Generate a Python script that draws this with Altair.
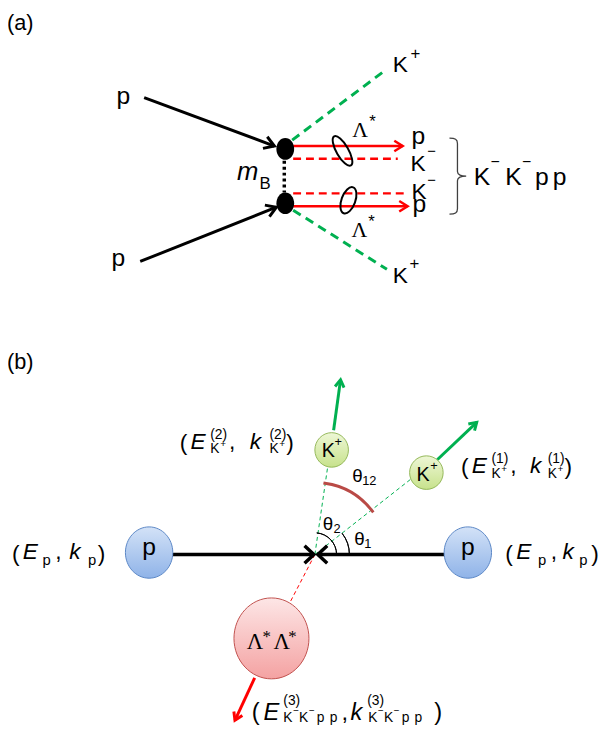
import numpy as np
import pandas as pd
import altair as alt

# ---------------- data (reference pixel coordinates) ----------------
X_DOMAIN = [8, 611]
Y_DOMAIN = [8, 733]

# (a) incoming proton arrows
PA_X0 = [146, 142]; PA_Y0 = [94, 260]; PA_X1 = [278, 280]; PA_Y1 = [143, 205]
# (b) beam arrows
PB_X0 = [175, 450]; PB_Y0 = [557, 557]; PB_X1 = [318, 322]; PB_Y1 = [557, 557]
# (a) meson exchange (dotted)
MB_X0 = [288]; MB_Y0 = [158]; MB_X1 = [288]; MB_Y1 = [190]
# (a) K+ dashed lines
KA_X0 = [296, 297]; KA_Y0 = [137, 208]; KA_X1 = [392, 392]; KA_Y1 = [65, 268]
# (a) red proton arrows
RA_X0 = [297, 297]; RA_Y0 = [143, 204]; RA_X1 = [408, 413]; RA_Y1 = [143, 204]
# (a) red K- dashed lines
RD_X0 = [297, 297]; RD_Y0 = [156, 191]; RD_X1 = [403, 410]; RD_Y1 = [156, 191]
# (b) K+ momentum arrows
GB_X0 = [338, 443]; GB_Y0 = [431, 461]; GB_X1 = [345, 483]; GB_Y1 = [380, 423]
# (b) thin dashed directions
GT_X0 = [319, 319]; GT_Y0 = [557, 557]; GT_X1 = [332, 417]; GT_Y1 = [468, 480]
RT_X0 = [319]; RT_Y0 = [557]; RT_X1 = [293]; RT_Y1 = [607]
# (b) Λ*Λ* momentum arrow
RB_X0 = [258]; RB_Y0 = [682]; RB_X1 = [238]; RB_Y1 = [725]

# ellipses: centre, semi-axes
DOT_X = [289, 289]; DOT_Y = [146, 201]; DOT_RX = [9, 9]; DOT_RY = [11, 11]
PC_X = [151, 474]; PC_Y = [555, 555]; PC_RX = [24, 24]; PC_RY = [26, 26]
KC_X = [336, 432]; KC_Y = [451, 474]; KC_RX = [17, 17]; KC_RY = [17.5, 17]
LC_X = [275]; LC_Y = [642]; LC_RX = [38]; LC_RY = [41]
# Λ* loops (tilted ellipses)
LP_X = [347, 353]; LP_Y = [148, 198]; LP_A = [17, 14]; LP_B = [6, 7]; LP_TILT = [330, 20]
# brace
BR_X = [463.5]; BR_Y = [173.5]; BR_H = [77]

# angle arcs about the collision point (degrees above +x axis)
ARC_CX = [319, 319]; ARC_CY = [557, 557]; ARC_R = [35, 22]; ARC_A0 = [0, 0]; ARC_A1 = [38, 85]
TH12_CX = [319]; TH12_CY = [557]; TH12_R = [73]; TH12_A0 = [37]; TH12_A1 = [82]

# texts: upright sans
SANS_T = ["(a)", "p", "p", "K", "+", "K", "+", "p", "K", "\u2212", "K", "\u2212", "p",
          "K", "\u2212", "K", "\u2212", "p", "p", "B", "*", "*",
          "(b)", "p", "p", "K", "+", "K", "+",
          "\u03b8", "2", "\u03b8", "1", "\u03b8", "12",
          "(", "p", ",", "p", ")",
          "(", "p", ",", "p", ")",
          "(", "(2)", "K", "+", ",", "(2)", "K", "+", ")",
          "(", "(1)", "K", "+", ",", "(1)", "K", "+", ")",
          "(", "(3)", "K", "\u2212", "K", "\u2212", "p", "p", ",",
          "(3)", "K", "\u2212", "K", "\u2212", "p", "p", ")"]
SANS_X = [7, 118, 113, 398, 416, 398, 415, 417, 416, 433, 417, 433, 418,
          480, 497, 512, 529, 542, 560, 263, 374, 373,
          7, 144, 467, 326, 339, 422, 436,
          327, 338, 359, 369, 357, 367,
          12, 43, 56, 89, 99,
          512, 545, 558, 587, 599,
          182, 213, 213, 223, 232, 273, 273, 283, 290,
          467, 498, 498, 508, 517, 555, 555, 565, 572,
          255, 287, 287, 297, 303, 313, 321, 334, 346,
          372, 373, 383, 389, 399, 407, 420, 440]
SANS_Y = [25, 100, 265, 68, 55, 282, 268, 141, 168, 153, 197, 182, 210,
          182, 164, 182, 164, 182, 182, 187, 124, 225,
          369, 557, 557, 458, 447, 482, 471,
          532, 535, 547, 550, 483, 487,
          564, 568, 562, 568, 564,
          564, 568, 562, 568, 564,
          451, 440, 454, 448, 450, 440, 454, 448, 451,
          475, 464, 479, 473, 474, 464, 479, 473, 475,
          725, 710, 727, 719, 727, 719, 727, 727, 725,
          710, 727, 719, 727, 719, 727, 727, 725]
SANS_S = [22, 25, 25, 23, 17, 23, 17, 25, 23, 15, 23, 15, 25,
          25, 16, 25, 16, 25, 25, 17, 17, 17,
          22, 25, 25, 20, 13, 20, 13,
          19, 13, 19, 13, 19, 13,
          23, 15, 23, 15, 23,
          23, 15, 23, 15, 23,
          23, 14, 14, 10, 23, 14, 14, 10, 23,
          23, 14, 14, 10, 23, 14, 14, 10, 23,
          24, 14, 14, 10, 14, 10, 14, 14, 24,
          14, 14, 10, 14, 10, 14, 14, 24]
# italic sans
ITAL_T = ["m", "E", "k", "E", "k", "E", "k", "E", "k", "E", "k"]
ITAL_X = [240, 23, 70, 523, 570, 193, 253, 478, 537, 267, 355]
ITAL_Y = [177, 562, 562, 562, 562, 450, 450, 474, 474, 725, 725]
ITAL_S = [26, 23, 23, 23, 23, 23, 23, 23, 23, 24, 24]
# serif
SERIF_T = ["\u039b", "\u039b", "\u039b", "*", "\u039b", "*"]
SERIF_X = [357, 356, 250, 266, 277, 292]
SERIF_Y = [134, 235, 653, 646, 653, 646]
SERIF_S = [22, 22, 23, 17, 23, 17]

# ---------------- helpers ----------------
xs = alt.Scale(domain=X_DOMAIN, nice=False, zero=False)
ys = alt.Scale(domain=Y_DOMAIN, nice=False, zero=False, reverse=True)
XE = alt.X("x:Q", scale=xs, axis=None)
YE = alt.Y("y:Q", scale=ys, axis=None)

CHEV_NARROW = "M -0.53 0.85 L 0 0 L 0.53 0.85"
CHEV_WIDE = "M -0.7 0.75 L 0 0 L 0.7 0.75"


def rules(x0, y0, x1, y1, **mk):
    df = pd.DataFrame(dict(x=x0, y=y0, x2=x1, y2=y1))
    return alt.Chart(df).mark_rule(**mk).encode(x=XE, y=YE, x2="x2:Q", y2="y2:Q")


def heads(x0, y0, x1, y1, **mk):
    x0, y0, x1, y1 = (np.asarray(v, float) for v in (x0, y0, x1, y1))
    ang = np.degrees(np.arctan2(x1 - x0, -(y1 - y0))) % 360
    df = pd.DataFrame(dict(x=x1, y=y1, a=ang))
    return alt.Chart(df).mark_point(filled=False, opacity=1, **mk).encode(
        x=XE, y=YE, angle=alt.Angle("a:Q", scale=None))


def ellipse_path(ratio):
    a, k = ratio, 0.5523
    return (f"M {a:.4f} 0 C {a:.4f} {k:.4f} {k*a:.4f} 1 0 1 "
            f"C {-k*a:.4f} 1 {-a:.4f} {k:.4f} {-a:.4f} 0 "
            f"C {-a:.4f} {-k:.4f} {-k*a:.4f} -1 0 -1 "
            f"C {k*a:.4f} -1 {a:.4f} {-k:.4f} {a:.4f} 0 Z")


def ellipses(cx, cy, rx, ry, tilt=None, **mk):
    df = pd.DataFrame(dict(x=cx, y=cy,
                           shp=[ellipse_path(a / b) for a, b in zip(rx, ry)],
                           s=[(2 * b) ** 2 for b in ry],
                           a=tilt if tilt is not None else [0] * len(cx)))
    return alt.Chart(df).mark_point(opacity=1, **mk).encode(
        x=XE, y=YE, shape=alt.Shape("shp:N", scale=None),
        size=alt.Size("s:Q", scale=None), angle=alt.Angle("a:Q", scale=None))


def arcs(cx, cy, r, a0, a1, **mk):
    df = pd.DataFrame(dict(x=cx, y=cy, r=r,
                           t1=np.radians(90 - np.asarray(a1, float)),
                           t2=np.radians(90 - np.asarray(a0, float))))
    df["r2"] = df["r"] - 0.01
    return alt.Chart(df).mark_arc(fillOpacity=0, **mk).encode(
        x=XE, y=YE,
        theta=alt.Theta("t1:Q", scale=None, stack=False), theta2=alt.Theta2("t2:Q"),
        radius=alt.Radius("r:Q", scale=None), radius2=alt.Radius2("r2:Q"))


def texts(t, x, y, s, **mk):
    df = pd.DataFrame(dict(t=t, x=x, y=y, s=s))
    return alt.Chart(df).mark_text(align="left", baseline="alphabetic", **mk).encode(
        x=XE, y=YE, text="t:N", size=alt.Size("s:Q", scale=None))


def grad(c0, c1):
    return alt.LinearGradient(gradient="linear", x1=0, x2=0, y1=0, y2=1,
                              stops=[alt.GradientStop(offset=0, color=c0),
                                     alt.GradientStop(offset=1, color=c1)])


GREEN = "#00b050"
RED = "#ff0000"

brace_df = pd.DataFrame(dict(x=BR_X, y=BR_Y, s=[h ** 2 for h in BR_H]))
brace = alt.Chart(brace_df).mark_point(
    shape="M -0.21 -1 C -0.06 -1 0 -0.97 0 -0.86 L 0 -0.12 C 0 -0.03 0.1 0 0.23 0 "
          "C 0.1 0 0 0.03 0 0.12 L 0 0.86 C 0 0.97 -0.06 1 -0.21 1",
    filled=False, opacity=1, color="#404040", strokeWidth=1.3).encode(
    x=XE, y=YE, size=alt.Size("s:Q", scale=None))

layers = [
    rules(PA_X0, PA_Y0, PA_X1, PA_Y1, color="black", strokeWidth=3),
    heads(PA_X0, PA_Y0, PA_X1, PA_Y1, shape=CHEV_NARROW, size=560, color="black", strokeWidth=3),
    rules(MB_X0, MB_Y0, MB_X1, MB_Y1, color="black", strokeWidth=3.5, strokeDash=[3, 3]),
    rules(KA_X0, KA_Y0, KA_X1, KA_Y1, color=GREEN, strokeWidth=3, strokeDash=[9, 6]),
    rules(RA_X0, RA_Y0, RA_X1, RA_Y1, color=RED, strokeWidth=2.5),
    heads(RA_X0, RA_Y0, RA_X1, RA_Y1, shape=CHEV_NARROW, size=400, color=RED, strokeWidth=2.5),
    rules(RD_X0, RD_Y0, RD_X1, RD_Y1, color=RED, strokeWidth=2.5, strokeDash=[8, 5]),
    ellipses(LP_X, LP_Y, LP_B, LP_A, tilt=LP_TILT, filled=False, color="black", strokeWidth=2),
    ellipses(DOT_X, DOT_Y, DOT_RX, DOT_RY, filled=True, color="black"),
    brace,
    # panel (b)
    rules(GT_X0, GT_Y0, GT_X1, GT_Y1, color=GREEN, strokeWidth=1, strokeDash=[4, 3]),
    rules(RT_X0, RT_Y0, RT_X1, RT_Y1, color=RED, strokeWidth=1, strokeDash=[4, 3]),
    rules(PB_X0, PB_Y0, PB_X1, PB_Y1, color="black", strokeWidth=3.5),
    heads(PB_X0, PB_Y0, PB_X1, PB_Y1, shape=CHEV_WIDE, size=640, color="black", strokeWidth=3.5),
    rules(GB_X0, GB_Y0, GB_X1, GB_Y1, color=GREEN, strokeWidth=3),
    heads(GB_X0, GB_Y0, GB_X1, GB_Y1, shape=CHEV_NARROW, size=300, color=GREEN, strokeWidth=3),
    rules(RB_X0, RB_Y0, RB_X1, RB_Y1, color=RED, strokeWidth=3),
    heads(RB_X0, RB_Y0, RB_X1, RB_Y1, shape=CHEV_NARROW, size=320, color=RED, strokeWidth=3),
    arcs(ARC_CX, ARC_CY, ARC_R, ARC_A0, ARC_A1, stroke="black", strokeWidth=1),
    arcs(TH12_CX, TH12_CY, TH12_R, TH12_A0, TH12_A1, stroke="#b94a46", strokeWidth=3),
    ellipses(PC_X, PC_Y, PC_RX, PC_RY, filled=True, fill=grad("#d3e2f7", "#8fb3e8"),
             stroke="#5a86c5", strokeWidth=1),
    ellipses(KC_X, KC_Y, KC_RX, KC_RY, filled=True, fill=grad("#eef7d6", "#c7e28c"),
             stroke="#94b85a", strokeWidth=1),
    ellipses(LC_X, LC_Y, LC_RX, LC_RY, filled=True, fill=grad("#fde6e6", "#f4a2a2"),
             stroke="#c0504d", strokeWidth=1),
    texts(SANS_T, SANS_X, SANS_Y, SANS_S, font="Liberation Sans", color="black"),
    texts(ITAL_T, ITAL_X, ITAL_Y, ITAL_S, font="Liberation Sans", fontStyle="italic", color="black"),
    texts(SERIF_T, SERIF_X, SERIF_Y, SERIF_S, font="Liberation Serif", color="black"),
]

chart = alt.layer(*layers).properties(
    width=X_DOMAIN[1] - X_DOMAIN[0], height=Y_DOMAIN[1] - Y_DOMAIN[0],
    padding=0, autosize=alt.AutoSizeParams(type="none")
).configure_view(strokeWidth=0)

chart.save("out.html", embed_options={"renderer": "svg", "actions": False})
